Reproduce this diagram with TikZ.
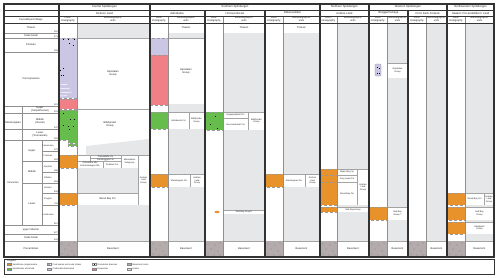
\documentclass[tikz,border=0pt]{standalone}
\usepackage{fontspec}
\setmainfont{Liberation Sans}
\definecolor{hiat}{HTML}{E6E7E8}
\definecolor{sandc}{HTML}{E8922B}
\definecolor{shalec}{HTML}{66BD4B}
\definecolor{carbc}{HTML}{CAC6E3}
\definecolor{evapc}{HTML}{F07F86}
\definecolor{basec}{HTML}{B4ACAC}
\definecolor{linc}{HTML}{333333}
\newcommand\hiatbox[4]{\fill[hiat] (#1,#2) rectangle (#3,#4);}
\newcommand\ucell[7]{\draw[cellb] (#1,#2) rectangle (#3,#4); \node[txt,#7] (#5) at ({(#1+#3)/2},{(#2+#4)/2}) {#6};}
\newcommand\litbox[5]{\filldraw[#5,draw=linc!50,densely dashed,line width=0.2pt] (#1,#2) rectangle (#3,#4);}
\newcommand\basem[2]{\fill[basec] (#1,241) rectangle (#2,257);
  \foreach \dx/\dy in {3/3,10/4,15/2,6/8,13/10,3/13,9/14,15/14} {\fill[black!75] (#1+\dx,241+\dy) circle (0.35);}}
\newcommand\brec[2]{\fill[black] (#1-0.5,#2-0.5) rectangle (#1+0.5,#2+0.5);}
\newcommand\lgitem[5]{\filldraw[fill=#3,draw=linc!60,line width=0.2pt] (#1,#2-1) rectangle (#1+4,#2+1);
  \node[txt,sm,anchor=west] (#4) at (#1+5.5,#2) {#5};}
\begin{document}
\begin{tikzpicture}[x=1pt,y=-1pt,
 txt/.style={font=\fontsize{2.6}{3.0}\selectfont,inner sep=0pt,align=center,text=black!85},
 sm/.style={font=\fontsize{2.2}{2.5}\selectfont},
 hd/.style={font=\fontsize{2.8}{3.2}\selectfont},
 cellb/.style={fill=white,draw=linc!45,line width=0.2pt},
 thinl/.style={draw=linc!55,line width=0.25pt},
 medl/.style={draw=linc,line width=0.6pt},
 thickl/.style={draw=linc,line width=1.1pt}]
\useasboundingbox (0,0) rectangle (500,278);
\fill[white] (0,0) rectangle (500,278);

% ===== Dickson Land
\hiatbox{77}{23}{149}{38}
\ucell{77}{38}{149}{109}{dkgip}{Gipsdalen\\Group}{}
\draw[cellb] (77,109) rectangle (149,155);
\fill[hiat] (86,146) -- (149,139) -- (149,155) -- (86,155) -- cycle;
\node[txt] (dkbil) at (110,124) {Billefjorden\\Group};
\ucell{90}{155}{121}{158}{dkplk}{Plantekløfta Fm}{sm}
\ucell{90}{158}{121}{161}{dkplr}{Planteryggen Fm}{sm}
\ucell{77}{161}{103}{168}{dkfis}{Fiskekløfta Mb/\\Estheriahaugen Mb}{sm}
\ucell{103}{161}{121}{168}{dktor}{Tordalen Fm}{sm}
\ucell{121}{155}{138}{168}{dkmim}{Mimerdalen\\Subgroup}{sm}
\hiatbox{77}{168}{138}{193}
\ucell{77}{193}{138}{205}{dkwb}{Wood Bay Fm}{}
\ucell{138}{155}{149}{205}{dkal}{Andrée\\Land\\Group}{sm}
\hiatbox{77}{205}{149}{241}
\ucell{77}{241}{149}{257}{dkbs}{Basement}{}
% litho
\litbox{59}{38}{77}{98}{fill=carbc}
\draw[white,line width=0.5pt] (59,84) -- (64,84.5) -- (68,84);
\draw[white,line width=0.5pt] (59,88) -- (63,88.5) -- (70,88.2);
\draw[white,line width=0.5pt] (59,92) -- (66,92.5) -- (72,92);
\draw[white,line width=0.5pt] (59,95.5) -- (62,96) -- (67,95.5);
\litbox{59}{99}{77}{109}{fill=evapc}
\filldraw[fill=shalec,draw=linc!50,densely dashed,line width=0.2pt] (59,110) -- (77,110) -- (77,143) -- (68,143) -- (68,140) -- (59,140) -- cycle;
\litbox{68}{144}{77}{146}{fill=shalec}
\litbox{59}{155}{77}{168}{fill=sandc}
\litbox{59}{193}{77}{205}{fill=sandc}
\basem{59}{77}
\brec{63}{40}\brec{68}{40}\brec{74}{40}\brec{69}{44}\brec{73}{46}
\brec{60}{70}\brec{63}{68}\brec{61}{75}\brec{63.5}{75}
\brec{63}{113}\brec{70}{119}\brec{74}{119}\brec{63}{125}\brec{68}{126}\brec{73}{126}\brec{69}{129}

% ===== Adriabukta
\ucell{168}{23}{204}{33}{adtri}{Triassic}{}
\hiatbox{168}{33}{204}{38}
\ucell{168}{38}{204}{104}{adgip}{Gipsdalen\\Group}{}
\hiatbox{168}{104}{204}{112}
\ucell{168}{112}{189}{129}{adfm}{Adriabukta Fm}{sm}
\ucell{189}{112}{204}{129}{adbil}{Billefjorden\\Group}{sm}
\hiatbox{168}{129}{204}{174}
\ucell{168}{174}{190}{187}{admar}{Marietoppen Fm}{sm}
\ucell{190}{174}{204}{187}{adal}{Andrée\\Land\\Group}{sm}
\hiatbox{168}{187}{204}{241}
\ucell{168}{241}{204}{257}{adbs}{Basement}{}
\litbox{150}{38}{168}{55}{fill=carbc}
\litbox{150}{55}{168}{105}{fill=evapc}
\litbox{150}{112}{168}{129}{fill=shalec}
\litbox{150}{174}{168}{187}{fill=sandc}
\basem{150}{168}

% ===== Hornsundneset
\ucell{223}{23}{265}{33}{hotri}{Triassic}{}
\hiatbox{223}{33}{265}{112}
\ucell{223}{112}{248}{118.5}{hoser}{Sergeijevfjellet Fm}{sm}
\ucell{223}{118.5}{248}{130}{hohor}{Hornsundneset Fm}{sm}
\ucell{248}{112}{265}{130}{hobil}{Billefjorden\\Group}{sm}
\hiatbox{223}{130}{265}{210}
\ucell{223}{210}{265}{214}{horb}{Red Bay Group?}{sm}
\hiatbox{223}{214}{265}{241}
\ucell{223}{241}{265}{257}{hobs}{Basement}{}
\litbox{205}{112}{223}{130}{fill=shalec}
\brec{215}{116}\brec{210}{124}\brec{217}{128}
\fill[sandc] (217,212) ellipse (2.5 and 1.2);
\basem{205}{223}

% ===== Rokensodden
\ucell{283}{23}{320}{33}{rotri}{Triassic}{}
\hiatbox{283}{33}{320}{174}
\ucell{283}{174}{305}{187}{romar}{Marietoppen Fm}{sm}
\ucell{305}{174}{320}{187}{roal}{Andrée\\Land\\Group}{sm}
\hiatbox{283}{187}{320}{241}
\ucell{283}{241}{320}{257}{robs}{Basement}{}
\litbox{265}{174}{283}{187}{fill=sandc}
\basem{265}{283}

% ===== Andree Land
\hiatbox{337}{23}{369}{169}
\ucell{337}{169}{357}{175.5}{anwij}{Wijde Bay Fm}{sm}
\ucell{337}{175.5}{357}{182}{angh}{Grey Hoek Fm}{sm}
\ucell{337}{182}{357}{205}{anwb}{Wood Bay Fm}{sm}
\ucell{357}{169}{369}{205}{anal}{Andrée\\Land\\Group}{sm}
\hiatbox{337}{205}{369}{207}
\ucell{337}{207}{369}{212}{anrb}{Red Bay Group}{sm}
\hiatbox{337}{212}{369}{241}
\ucell{337}{241}{369}{257}{anbs}{Basement}{}
\litbox{320}{169}{337}{205}{fill=sandc}
\draw[linc!50,densely dashed,line width=0.2pt] (320,175.5) -- (337,175.5) (320,182) -- (337,182);
\litbox{320}{207}{337}{212}{fill=sandc}
\basem{320}{337}

% ===== Broggerhalvoya
\hiatbox{387}{23}{408}{63}
\ucell{387}{63}{408}{78}{brgip}{Gipsdalen\\Group}{sm}
\hiatbox{387}{78}{408}{207}
\ucell{387}{207}{408}{220}{brrb}{Red Bay\\Group ?}{sm}
\hiatbox{387}{220}{408}{241}
\ucell{387}{241}{408}{257}{brbs}{Basement}{}
\filldraw[fill=carbc,draw=linc!60,line width=0.2pt,rounded corners=1pt] (375,64) rectangle (381,76);
\brec{377}{67}\brec{379.5}{68}\brec{377}{73}\brec{379.5}{73}
\litbox{369}{207}{387}{220}{fill=sandc}
\basem{369}{387}

% ===== Prins Karls Forland
\hiatbox{426}{23}{447}{241}
\ucell{426}{241}{447}{257}{pkbs}{Basement}{}
\basem{408}{426}

% ===== Haakon VII Land
\hiatbox{465}{23}{494}{193}
\ucell{465}{193}{484}{205}{hawb}{Wood Bay Fm}{sm}
\ucell{484}{193}{494}{205}{haal}{Andrée\\Land\\Group}{sm}
\hiatbox{465}{205}{494}{207}
\ucell{465}{207}{494}{220}{harb}{Red Bay\\Group}{sm}
\hiatbox{465}{220}{494}{222}
\ucell{465}{222}{494}{234}{hasik}{Siktefjellet\\Group}{sm}
\hiatbox{465}{234}{494}{241}
\ucell{465}{241}{494}{257}{habs}{Basement}{}
\litbox{447}{193}{465}{205}{fill=sandc}
\litbox{447}{207}{465}{220}{fill=sandc}
\litbox{447}{222}{465}{234}{fill=sandc}
\basem{447}{465}

% ===== Left time column
\foreach \yy in {33,38,52,106,113,129,140,225,234,241} {\draw[thinl] (4,\yy) -- (59,\yy);}
\foreach \yy in {151,172,193,205} {\draw[thinl] (42,\yy) -- (59,\yy);}
\foreach \yy in {161,183} {\draw[thinl] (22,\yy) -- (59,\yy);}
\draw[thinl] (22,106) -- (22,225);
\draw[thinl] (42,140) -- (42,225);
\node[txt] (pTri) at (31,28) {Triassic};
\node[txt] (pSb1) at (31,35.5) {Scale break};
\node[txt] (pPer) at (31,45) {Permian};
\node[txt] (pPen) at (31,79) {Pennsylvanian};
\node[txt] (pMis) at (13,123) {Mississippian};
\node[txt] (eSer) at (40,109.5) {Upper\\(Serpukhovian)};
\node[txt] (eVis) at (40,121) {Middle\\(Visean)};
\node[txt] (eTou) at (40,134.5) {Lower\\(Tournaisian)};
\node[txt] (pDev) at (13,182.5) {Devonian};
\node[txt] (eUp) at (32,150.5) {Upper};
\node[txt] (eMid) at (32,172) {Middle};
\node[txt] (eLow) at (32,204) {Lower};
\node[txt,sm] (sFam) at (48,145.5) {Famennian};
\node[txt,sm] (sFra) at (48,156) {Frasnian};
\node[txt,sm] (sGiv) at (48,166.5) {Givetian};
\node[txt,sm] (sEif) at (48,177.5) {Eifelian};
\node[txt,sm] (sEms) at (48,188) {Emsian};
\node[txt,sm] (sPra) at (48,199) {Pragian};
\node[txt,sm] (sLoc) at (48,215) {Lochkovian};
\node[txt] (pSil) at (31,229.5) {upper Silurian};
\node[txt] (pSb2) at (31,237.5) {Scale break};
\node[txt] (pPre) at (31,249) {Precambrian};
\foreach \yy/\nn in {33/252,38/273,52/299,106/323,113/331,129/347,140/359,151/372,161/383,172/388,183/393,193/408,205/411,225/419,234/427,241/541}
  {\node[txt,sm,anchor=east] (n\nn) at (58,\yy-1) {\nn};}

% ===== Headers
\node[txt,hd] (hCS) at (104.5,7) {Central Spitsbergen};
\node[txt,hd] (hSS) at (235,7) {Southern Spitsbergen};
\node[txt,hd] (hNS) at (344.5,7) {Northern Spitsbergen};
\node[txt,hd] (hWS) at (408,7) {Western Spitsbergen};
\node[txt,hd] (hNW) at (470.5,7) {Northwestern Spitsbergen};
\node[txt,hd] (lDL) at (104.5,13) {Dickson Land};
\node[txt,hd] (lAD) at (177,13) {Adriabukta};
\node[txt,hd] (lHO) at (235,13) {Hornsundneset};
\node[txt,hd] (lRO) at (292.5,13) {Røkensodden};
\node[txt,hd] (lAL) at (344.5,13) {Andrée Land};
\node[txt,hd] (lBR) at (388.5,13) {Brøggerhalvøya};
\node[txt,hd] (lPK) at (427.5,13) {Prins Karls Forland};
\node[txt,hd] (lHK) at (470.5,13) {Haakon VII Land/Albert I Land};
\node[txt] (hPES) at (31,19.5) {Period/Epoch/Stage};
\foreach \lx/\bx/\ex/\nm in {59/77/149/a,150/168/204/b,205/223/265/c,265/283/320/d,320/337/369/e,369/387/408/f,408/426/447/g,447/465/494/h}
 {\node[txt] (lit\nm) at ({(\lx+\bx)/2},19.5) {Litho-\\stratigraphy};
  \node[txt] (bio\nm) at ({(\bx+\ex)/2},19.5) {Biostratigraphic\\units};
  \draw[thinl] (\bx,16) -- (\bx,257);}

% ===== Grid lines
\draw[medl] (4,10) -- (494,10);
\draw[medl] (4,16) -- (494,16);
\draw[medl] (4,23) -- (494,23);
\foreach \xx in {59,150,320,369,447} {\draw[thickl] (\xx,4) -- (\xx,257);}
\foreach \xx in {205,265,408} {\draw[thickl] (\xx,10) -- (\xx,257);}
\draw[thickl] (4,4) rectangle (494,257);

% ===== Legend
\draw[linc,line width=0.5pt] (4,259) rectangle (494,274);
\node[txt,anchor=west] (lg) at (7,261) {Legend};
\lgitem{7}{264.5}{sandc}{lg1}{Sandstone-conglomerate}
\lgitem{7}{269}{shalec}{lg2}{Sandstones and shale}
\lgitem{47}{264.5}{white}{lg3}{Coal seams and coaly shales}
\fill[black] (49,264.5) circle (0.5);
\lgitem{47}{269}{carbc}{lg4}{Carbonate-dominated}
\lgitem{92}{264.5}{white}{lg5}{Dissolution breccias}
\brec{94}{264.5}
\lgitem{92}{269}{evapc}{lg6}{Evaporites}
\lgitem{127}{264.5}{basec}{lg7}{Basement rocks}
\lgitem{127}{269}{hiat}{lg8}{Hiatus}
\end{tikzpicture}
\end{document}
